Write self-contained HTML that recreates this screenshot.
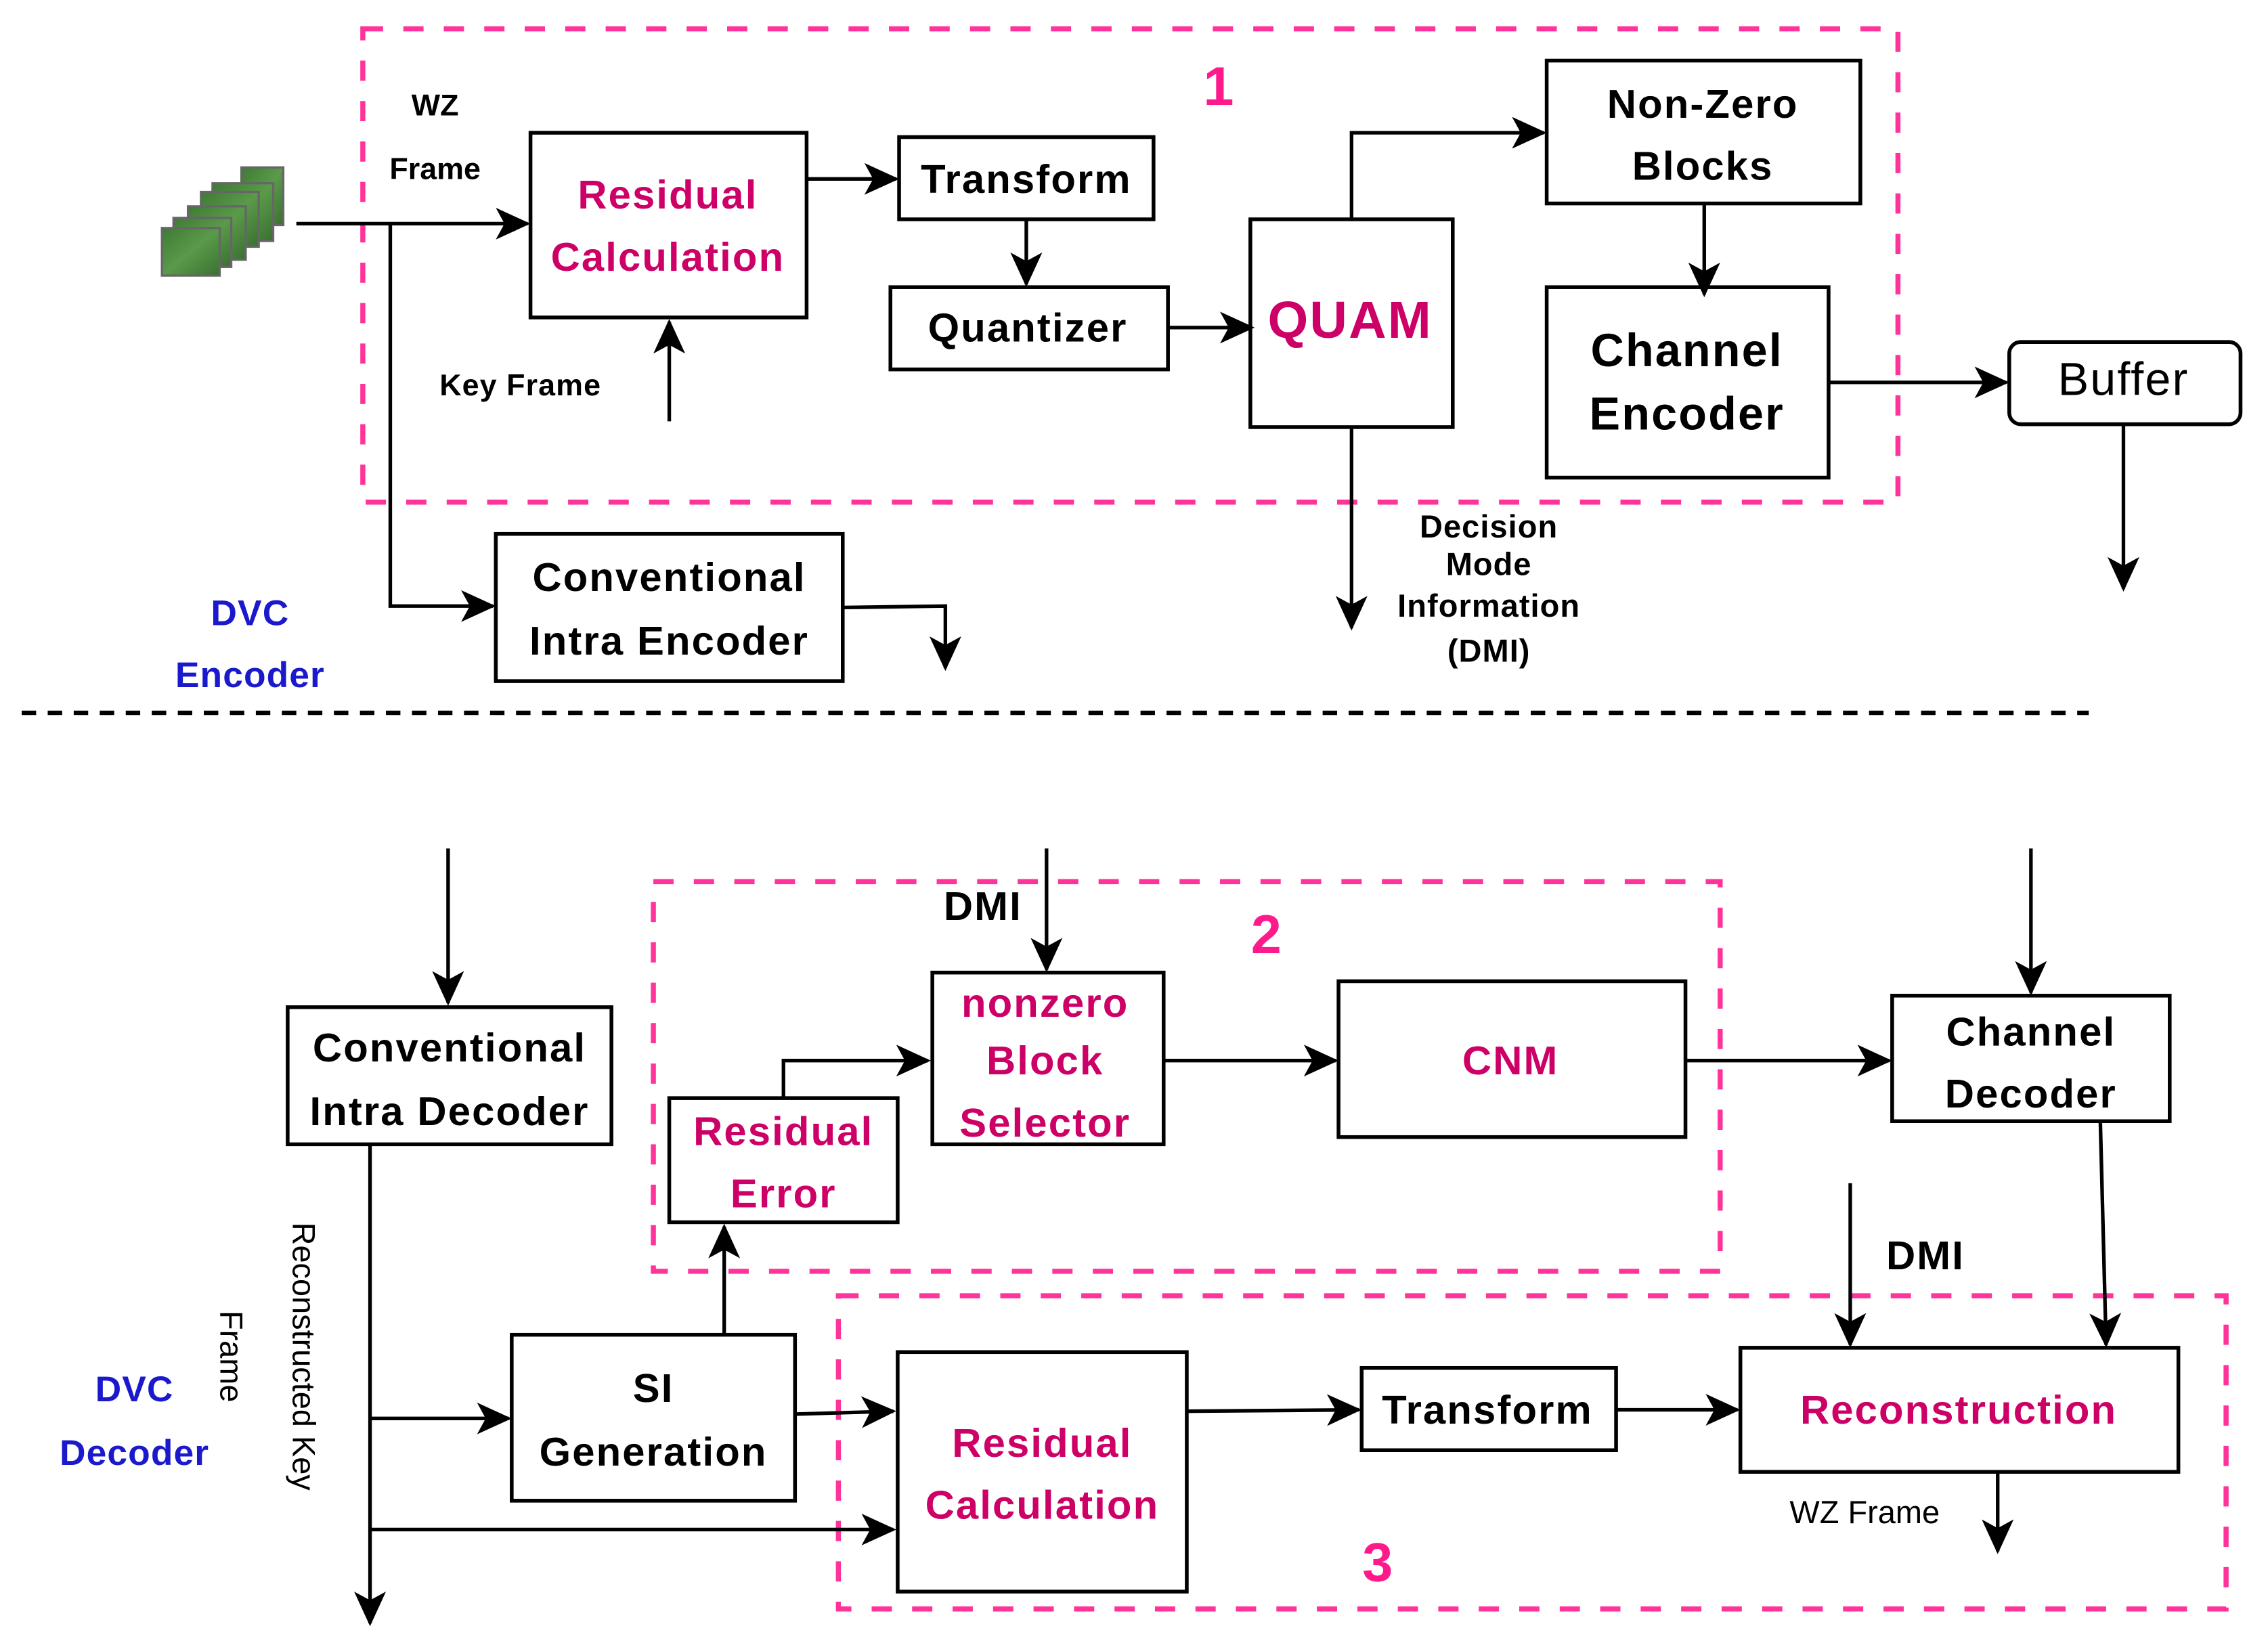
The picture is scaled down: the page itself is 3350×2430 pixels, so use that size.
<!DOCTYPE html>
<html><head><meta charset="utf-8"><style>
html,body{margin:0;padding:0;background:#fff;}
svg{display:block}
text{font-family:"Liberation Sans",sans-serif;font-weight:bold;}
</style></head><body>
<svg width="3350" height="2430" viewBox="0 0 1569 1140" preserveAspectRatio="none" xmlns="http://www.w3.org/2000/svg">
<defs>
<marker id="a" viewBox="0 0 24 22" refX="22" refY="11" markerWidth="24" markerHeight="22" markerUnits="userSpaceOnUse" orient="auto">
<path d="M0,0 L24,11 L0,22 L6,11 Z" fill="#000"/>
</marker>
<linearGradient id="g" x1="0" y1="0" x2="1" y2="1"><stop offset="0" stop-color="#3f7a35"/><stop offset="0.5" stop-color="#5a9a4a"/><stop offset="1" stop-color="#3a7030"/></linearGradient>
</defs>
<g fill="none" stroke="#ff3399" stroke-width="3.5" stroke-dasharray="14,14">
<rect x="251" y="20" width="1062" height="328"/>
<rect x="452" y="611" width="738" height="270"/>
<rect x="580" y="898" width="960" height="217"/>
</g>
<line x1="15" y1="494" x2="1445" y2="494" stroke="#000" stroke-width="3" stroke-dasharray="10,8"/>
<g stroke="#666" stroke-width="1.5" fill="url(#g)">
<rect x="167" y="116" width="29" height="40"/>
<rect x="147" y="127" width="42" height="40"/>
<rect x="139" y="133" width="40" height="38"/>
<rect x="130" y="143" width="40" height="37"/>
<rect x="120" y="151" width="40" height="34"/>
<rect x="112" y="158" width="40" height="33"/>
</g>
<g fill="none" stroke="#000" stroke-width="2.6">
<rect x="367" y="92" width="191" height="128"/>
<rect x="622" y="95" width="176" height="57"/>
<rect x="616" y="199" width="192" height="57"/>
<rect x="865" y="152" width="140" height="144"/>
<rect x="1070" y="42" width="217" height="99"/>
<rect x="1070" y="199" width="195" height="132"/>
<rect x="1390" y="237" width="160" height="57" rx="8"/>
<rect x="343" y="370" width="240" height="102"/>
<rect x="199" y="698" width="224" height="95"/>
<rect x="354" y="925" width="196" height="115"/>
<rect x="463" y="761" width="158" height="86"/>
<rect x="645" y="674" width="160" height="119"/>
<rect x="926" y="680" width="240" height="108"/>
<rect x="1309" y="690" width="192" height="87"/>
<rect x="621" y="937" width="200" height="166"/>
<rect x="942" y="948" width="176" height="57"/>
<rect x="1204" y="934" width="303" height="86"/>
</g>
<g fill="none" stroke="#000" stroke-width="2.5" marker-end="url(#a)">
<line x1="205" y1="155" x2="365" y2="155"/>
<polyline points="270,155 270,420 341,420"/>
<line x1="558" y1="124" x2="620" y2="124"/>
<line x1="710" y1="152" x2="710" y2="197"/>
<line x1="808" y1="227" x2="866" y2="227"/>
<polyline points="935,152 935,92 1068,92"/>
<line x1="1179" y1="141" x2="1179" y2="204"/>
<line x1="1265" y1="265" x2="1388" y2="265"/>
<line x1="1469" y1="294" x2="1469" y2="408"/>
<line x1="463" y1="292" x2="463" y2="223"/>
<line x1="935" y1="296" x2="935" y2="435"/>
<polyline points="583,421 654,420 654,463"/>
<line x1="310" y1="588" x2="310" y2="695"/>
<line x1="256" y1="793" x2="256" y2="1125"/>
<line x1="256" y1="983" x2="352" y2="983"/>
<line x1="256" y1="1060" x2="618" y2="1060"/>
<line x1="501" y1="925" x2="501" y2="850"/>
<line x1="550" y1="980" x2="618" y2="978"/>
<line x1="724" y1="588" x2="724" y2="672"/>
<polyline points="542,761 542,735 642,735"/>
<line x1="805" y1="735" x2="924" y2="735"/>
<line x1="1166" y1="735" x2="1307" y2="735"/>
<line x1="1405" y1="588" x2="1405" y2="688"/>
<line x1="1453" y1="777" x2="1457" y2="932"/>
<line x1="1280" y1="820" x2="1280" y2="932"/>
<line x1="821" y1="978" x2="940" y2="977"/>
<line x1="1118" y1="977" x2="1202" y2="977"/>
<line x1="1382" y1="1020" x2="1382" y2="1075"/>
</g>
<g text-anchor="middle" dominant-baseline="central">
<text x="843" y="60" font-size="38" fill="#ff1a8c">1</text>
<text x="876" y="648" font-size="38" fill="#ff1a8c">2</text>
<text x="953" y="1083" font-size="38" fill="#ff1a8c">3</text>
<text x="301" y="73" font-size="21">WZ</text>
<text x="301" y="117" font-size="21">Frame</text>
<text x="360" y="267" font-size="21" letter-spacing="0.5">Key Frame</text>
<g font-size="28" fill="#cc0066" letter-spacing="1">
<text x="462" y="135">Residual</text><text x="462" y="178">Calculation</text>
<text x="934" y="222" font-size="36">QUAM</text>
<text x="723" y="695">nonzero</text><text x="723" y="735">Block</text><text x="723" y="778">Selector</text>
<text x="542" y="784">Residual</text><text x="542" y="827">Error</text>
<text x="1045" y="735">CNM</text>
<text x="721" y="1000">Residual</text><text x="721" y="1043">Calculation</text>
<text x="1355" y="977">Reconstruction</text>
</g>
<g font-size="28" letter-spacing="1">
<text x="710" y="124">Transform</text>
<text x="711" y="227">Quantizer</text>
<text x="1178" y="72">Non-Zero</text><text x="1178" y="115">Blocks</text>
<text x="1167" y="243" font-size="32">Channel</text><text x="1167" y="287" font-size="32">Encoder</text>
<text x="1469" y="263" font-size="32" style="font-weight:normal">Buffer</text>
<text x="463" y="400">Conventional</text><text x="463" y="444">Intra Encoder</text>
<text x="311" y="726">Conventional</text><text x="311" y="770">Intra Decoder</text>
<text x="452" y="962">SI</text><text x="452" y="1006">Generation</text>
<text x="1405" y="715">Channel</text><text x="1405" y="758">Decoder</text>
<text x="1029" y="977">Transform</text>
<text x="680" y="628">DMI</text>
<text x="1332" y="870">DMI</text>
</g>
<g font-size="22" letter-spacing="0.5">
<text x="1030" y="365">Decision</text><text x="1030" y="391">Mode</text><text x="1030" y="420">Information</text><text x="1030" y="451">(DMI)</text>
</g>
<text x="1290" y="1048" font-size="22" style="font-weight:normal">WZ Frame</text>
<g font-size="25" fill="#1a1acc" letter-spacing="0.5">
<text x="173" y="425">DVC</text><text x="173" y="468">Encoder</text>
<text x="93" y="963">DVC</text><text x="93" y="1007">Decoder</text>
</g>
<text transform="translate(210,940) rotate(90)" font-size="22" style="font-weight:normal">Reconstructed Key</text>
<text transform="translate(160,940) rotate(90)" font-size="22" style="font-weight:normal">Frame</text>
</g>
</svg>
</body></html>
